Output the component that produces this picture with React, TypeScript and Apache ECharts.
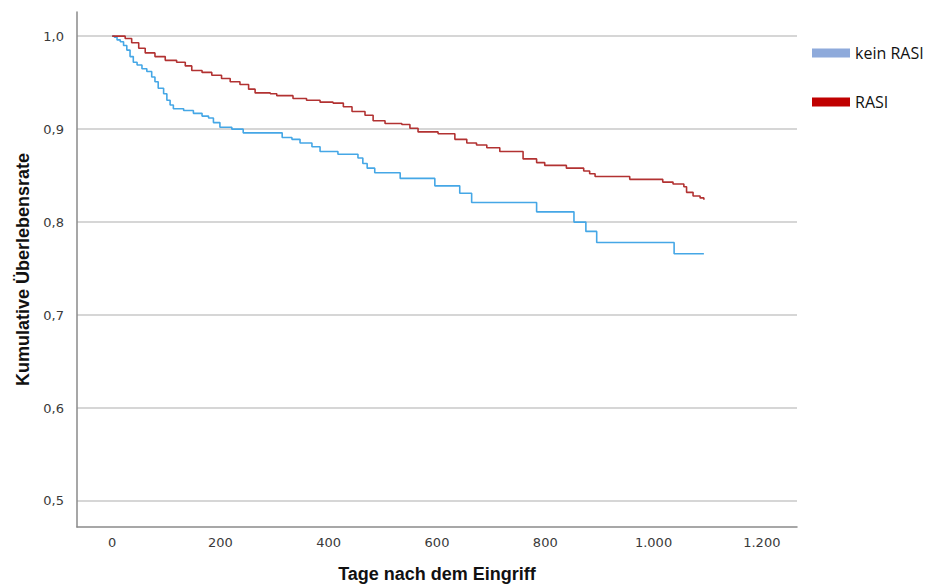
import React, { useEffect, useRef } from "react";
import * as echarts from "echarts";

// Kaplan-Meier steps: time in days, survival after the event at that time
const keinRasiDays = [0, 4, 9, 15, 21, 27, 33, 39, 46, 55, 64, 73, 79, 85, 95, 101, 107, 113, 132, 150, 166, 178, 187, 199, 221, 242, 314, 332, 347, 369, 384, 417, 454, 463, 471, 485, 532, 596, 642, 664, 784, 853, 875, 895, 1038, 1093];
const keinRasiSurv = [1.0, 0.999, 0.996, 0.994, 0.99, 0.985, 0.978, 0.972, 0.969, 0.965, 0.962, 0.956, 0.951, 0.944, 0.938, 0.931, 0.926, 0.922, 0.92, 0.917, 0.914, 0.912, 0.907, 0.902, 0.9, 0.896, 0.891, 0.889, 0.885, 0.881, 0.876, 0.873, 0.869, 0.863, 0.858, 0.853, 0.847, 0.839, 0.831, 0.821, 0.811, 0.8, 0.79, 0.778, 0.766, 0.766];

const rasiDays = [0, 24, 36, 49, 61, 79, 98, 119, 135, 147, 166, 184, 202, 218, 236, 252, 264, 292, 304, 334, 359, 384, 408, 427, 443, 467, 482, 504, 535, 550, 565, 602, 633, 655, 673, 692, 716, 759, 784, 799, 839, 871, 882, 892, 956, 1017, 1036, 1056, 1061, 1073, 1086, 1093];
const rasiSurv = [1.0, 0.9975, 0.993, 0.987, 0.982, 0.978, 0.974, 0.972, 0.968, 0.963, 0.961, 0.958, 0.9545, 0.951, 0.948, 0.943, 0.939, 0.938, 0.936, 0.933, 0.931, 0.929, 0.928, 0.924, 0.919, 0.915, 0.909, 0.906, 0.905, 0.901, 0.897, 0.895, 0.889, 0.885, 0.883, 0.88, 0.876, 0.868, 0.864, 0.861, 0.858, 0.855, 0.852, 0.849, 0.846, 0.843, 0.841, 0.838, 0.832, 0.828, 0.826, 0.824];

const xTicks = [0, 200, 400, 600, 800, 1000, 1200];
const yTicks = [0.5, 0.6, 0.7, 0.8, 0.9, 1.0];
const seriesNames = ["kein RASI", "RASI"];

export default function App() {
  const ref = useRef<HTMLDivElement>(null);
  useEffect(() => {
    if (!ref.current) return;
    const chart = echarts.init(ref.current, null, { renderer: "svg" });
    const zip = (a: number[], b: number[]) => a.map((t, i) => [t, b[i]]);
    chart.setOption({
      animation: false,
      backgroundColor: "#ffffff",
      grid: { left: 77, top: 12, right: 135, bottom: 61, containLabel: false },
      legend: {
        orient: "vertical",
        left: 812,
        top: 45,
        padding: 0,
        icon: "rect",
        itemWidth: 38,
        itemHeight: 9,
        itemGap: 33,
        textStyle: { fontFamily: "Open Sans", fontSize: 16, color: "#111" },
        data: [
          { name: seriesNames[0], itemStyle: { color: "#8EAADB" } },
          { name: seriesNames[1], itemStyle: { color: "#C00000" } },
        ],
      },
      xAxis: {
        type: "value",
        min: -65,
        max: 1265,
        name: "Tage nach dem Eingriff",
        nameLocation: "middle",
        nameGap: 38,
        nameTextStyle: { fontFamily: "Liberation Sans", fontWeight: "bold", fontSize: 18, color: "#111" },
        axisLine: { show: true, onZero: false, lineStyle: { color: "#8a8a8a", width: 1.5 } },
        axisTick: { show: false, customValues: xTicks },
        splitLine: { show: false },
        axisLabel: {
          customValues: xTicks,
          margin: 9,
          fontFamily: "DejaVu Sans",
          fontSize: 13,
          color: "#3a3a3a",
          formatter: (v: number) => (v >= 1000 ? Math.floor(v / 1000) + "." + String(v % 1000).padStart(3, "0") : String(v)),
        },
      },
      yAxis: {
        type: "value",
        min: 0.472,
        max: 1.026,
        name: "Kumulative Überlebensrate",
        nameLocation: "middle",
        nameGap: 45,
        nameTextStyle: { fontFamily: "Liberation Sans", fontWeight: "bold", fontSize: 18, color: "#111" },
        axisLine: { show: true, onZero: false, lineStyle: { color: "#8a8a8a", width: 1.5 } },
        axisTick: { show: false, customValues: yTicks },
        splitLine: { show: true, lineStyle: { color: "#c8c8c8", width: 1.5 } },
        axisLabel: {
          customValues: yTicks,
          margin: 13,
          fontFamily: "DejaVu Sans",
          fontSize: 13,
          color: "#3a3a3a",
          formatter: (v: number) => v.toFixed(1).replace(".", ","),
        },
      },
      series: [
        {
          name: seriesNames[0],
          type: "line",
          step: "end",
          showSymbol: false,
          data: zip(keinRasiDays, keinRasiSurv),
          lineStyle: { color: "#45A7E6", width: 1.6 },
          itemStyle: { color: "#45A7E6" },
        },
        {
          name: seriesNames[1],
          type: "line",
          step: "end",
          showSymbol: false,
          data: zip(rasiDays, rasiSurv),
          lineStyle: { color: "#B23232", width: 1.6 },
          itemStyle: { color: "#B23232" },
        },
      ],
    });
    return () => chart.dispose();
  }, []);
  return <div ref={ref} style={{ width: 932, height: 588, position: "absolute", left: 0, top: 0 }} />;
}
